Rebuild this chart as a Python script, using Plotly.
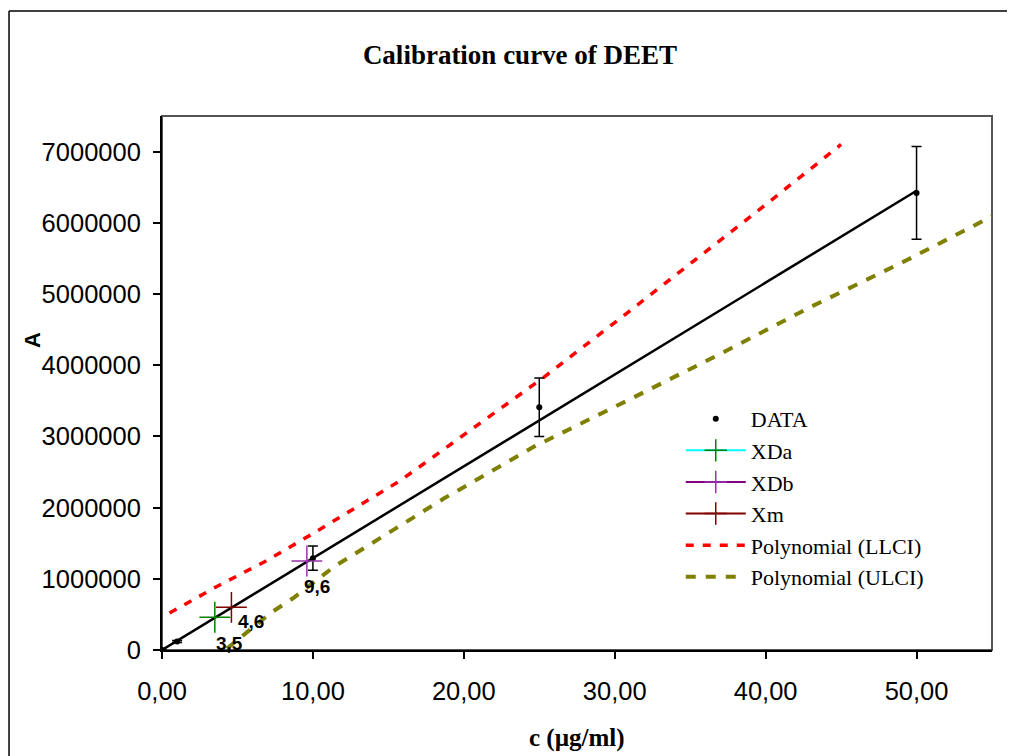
import plotly.graph_objects as go

# ---- data ----
conc = [0, 1, 10, 25, 50]
absorb = [0, 120000, 1290000, 3410000, 6420000]
absorb_err = [0, 15000, 170000, 410000, 650000]

fit_x = [0, 50]
fit_y = [0, 6450000]

xda_x = [3.5]
xda_y = [460000]
xdb_x = [9.6]
xdb_y = [1250000]
xm_x = [4.6]
xm_y = [600000]

llci_x = [0.5, 3.7, 6.8, 9.8, 15.8, 19.8, 25.3, 30.5, 35.7, 39.5, 45.0]
llci_y = [520000, 900000, 1240000, 1610000, 2380000, 2990000, 3830000,
          4680000, 5540000, 6170000, 7100000]
ulci_x = [4.3, 7.2, 8.7, 11.4, 18.7, 24.6, 30.9, 37.0, 43.0, 49.3, 55.0]
ulci_y = [20000, 520000, 730000, 1170000, 2130000, 2850000, 3510000,
          4160000, 4820000, 5470000, 6090000]

x_ticks = [0, 10, 20, 30, 40, 50]
x_ticklabels = ["0,00", "10,00", "20,00", "30,00", "40,00", "50,00"]
y_ticks = [0, 1000000, 2000000, 3000000, 4000000, 5000000, 6000000, 7000000]
y_ticklabels = ["0", "1000000", "2000000", "3000000", "4000000", "5000000",
                "6000000", "7000000"]

fig = go.Figure()

fig.add_trace(go.Scatter(
    x=llci_x, y=llci_y, mode="lines", name="Polynomial (LLCI)",
    line=dict(color="#ff0000", width=3.5, dash="8px,9px"), legendrank=5))
fig.add_trace(go.Scatter(
    x=ulci_x, y=ulci_y, mode="lines", name="Polynomial (ULCI)",
    line=dict(color="#808000", width=4, dash="10px,10px"), legendrank=6))

fig.add_trace(go.Scatter(
    x=fit_x, y=fit_y, mode="lines", showlegend=False,
    line=dict(color="black", width=2.5)))

fig.add_trace(go.Scatter(
    x=conc, y=absorb, mode="markers", name="DATA",
    marker=dict(color="black", size=6),
    error_y=dict(type="data", array=absorb_err, visible=True,
                 color="black", thickness=1.5, width=5),
    legendrank=1))

fig.add_trace(go.Scatter(
    x=xda_x, y=xda_y, mode="lines+markers", name="XDa",
    line=dict(color="#00ffff", width=2),
    marker=dict(symbol="cross-thin", size=22, color="#008000",
                line=dict(color="#008000", width=1.5)),
    legendrank=2))
fig.add_trace(go.Scatter(
    x=xdb_x, y=xdb_y, mode="lines+markers", name="XDb",
    line=dict(color="#800080", width=2),
    marker=dict(symbol="cross-thin", size=22, color="#9933aa",
                line=dict(color="#9933aa", width=1.5)),
    legendrank=3))
fig.add_trace(go.Scatter(
    x=xm_x, y=xm_y, mode="lines+markers", name="Xm",
    line=dict(color="#800000", width=2),
    marker=dict(symbol="cross-thin", size=22, color="#800000",
                line=dict(color="#800000", width=1.5)),
    legendrank=4))

lab_font = dict(family="Liberation Sans, Arial", size=19, color="black")
for xs, ys, dx, dy in [(xda_x, xda_y, 15, -26), (xm_x, xm_y, 20, -14),
                       (xdb_x, xdb_y, 10, -25)]:
    fig.add_annotation(x=xs[0], y=ys[0], text="<b>" + f"{xs[0]:.1f}".replace(".", ",") + "</b>",
                       showarrow=False, xshift=dx, yshift=dy, font=lab_font)

# y axis title (placed like the original, above the centre)
fig.add_annotation(x=-0.1566, y=0.5805, xref="paper", yref="paper",
                   text="<b>A</b>", showarrow=False, textangle=-90,
                   xanchor="center", yanchor="middle",
                   font=dict(family="Liberation Sans, Arial", size=22, color="black"))
# x axis title
fig.add_annotation(x=0.5, y=-0.1648, xref="paper", yref="paper",
                   text="<b>c (µg/ml)</b>", showarrow=False,
                   xanchor="center", yanchor="middle",
                   font=dict(family="Liberation Serif, Times New Roman", size=25, color="black"))

# outer chart border (only left and top edges fall inside the picture)
fig.add_shape(type="line", xref="paper", yref="paper",
              x0=-0.1843, x1=1.3, y0=1.1966, y1=1.1966,
              line=dict(color="black", width=1.5), layer="below")
fig.add_shape(type="line", xref="paper", yref="paper",
              x0=-0.1843, x1=-0.1843, y0=1.1966, y1=-0.4,
              line=dict(color="black", width=1.5), layer="below")
# plot area border
fig.add_shape(type="rect", xref="paper", yref="paper",
              x0=0, x1=1, y0=0, y1=1,
              line=dict(color="#555555", width=2), layer="below")

fig.update_layout(
    width=1007, height=748,
    margin=dict(l=154, r=23, t=108, b=106, autoexpand=False),
    paper_bgcolor="white", plot_bgcolor="white",
    title=dict(text="<b>Calibration curve of DEET</b>",
               font=dict(family="Liberation Serif, Times New Roman", size=27, color="black"),
               x=512 / 1007, xanchor="center", y=1 - 47 / 748, yanchor="middle"),
    showlegend=True,
    legend=dict(x=0.625, y=0.472, xanchor="left", yanchor="top",
                font=dict(family="Liberation Serif, Times New Roman", size=22, color="black"),
                bgcolor="rgba(0,0,0,0)", itemwidth=60, tracegroupgap=0,
                traceorder="normal"),
    xaxis=dict(range=[0, 55], tickvals=x_ticks, ticktext=x_ticklabels,
               showgrid=False, zeroline=False, showline=True,
               linecolor="black", linewidth=2, ticks="outside", ticklen=7,
               tickwidth=1.5, tickcolor="black", ticklabelstandoff=10,
               tickfont=dict(family="Liberation Sans, Arial", size=25.5, color="black")),
    yaxis=dict(range=[0, 7500000], tickvals=y_ticks, ticktext=y_ticklabels,
               showgrid=False, zeroline=False, showline=True,
               linecolor="black", linewidth=2, ticks="outside", ticklen=7,
               tickwidth=1.5, tickcolor="black", ticklabelstandoff=7,
               tickfont=dict(family="Liberation Sans, Arial", size=25.5, color="black")),
)

fig.write_html("out.html")
